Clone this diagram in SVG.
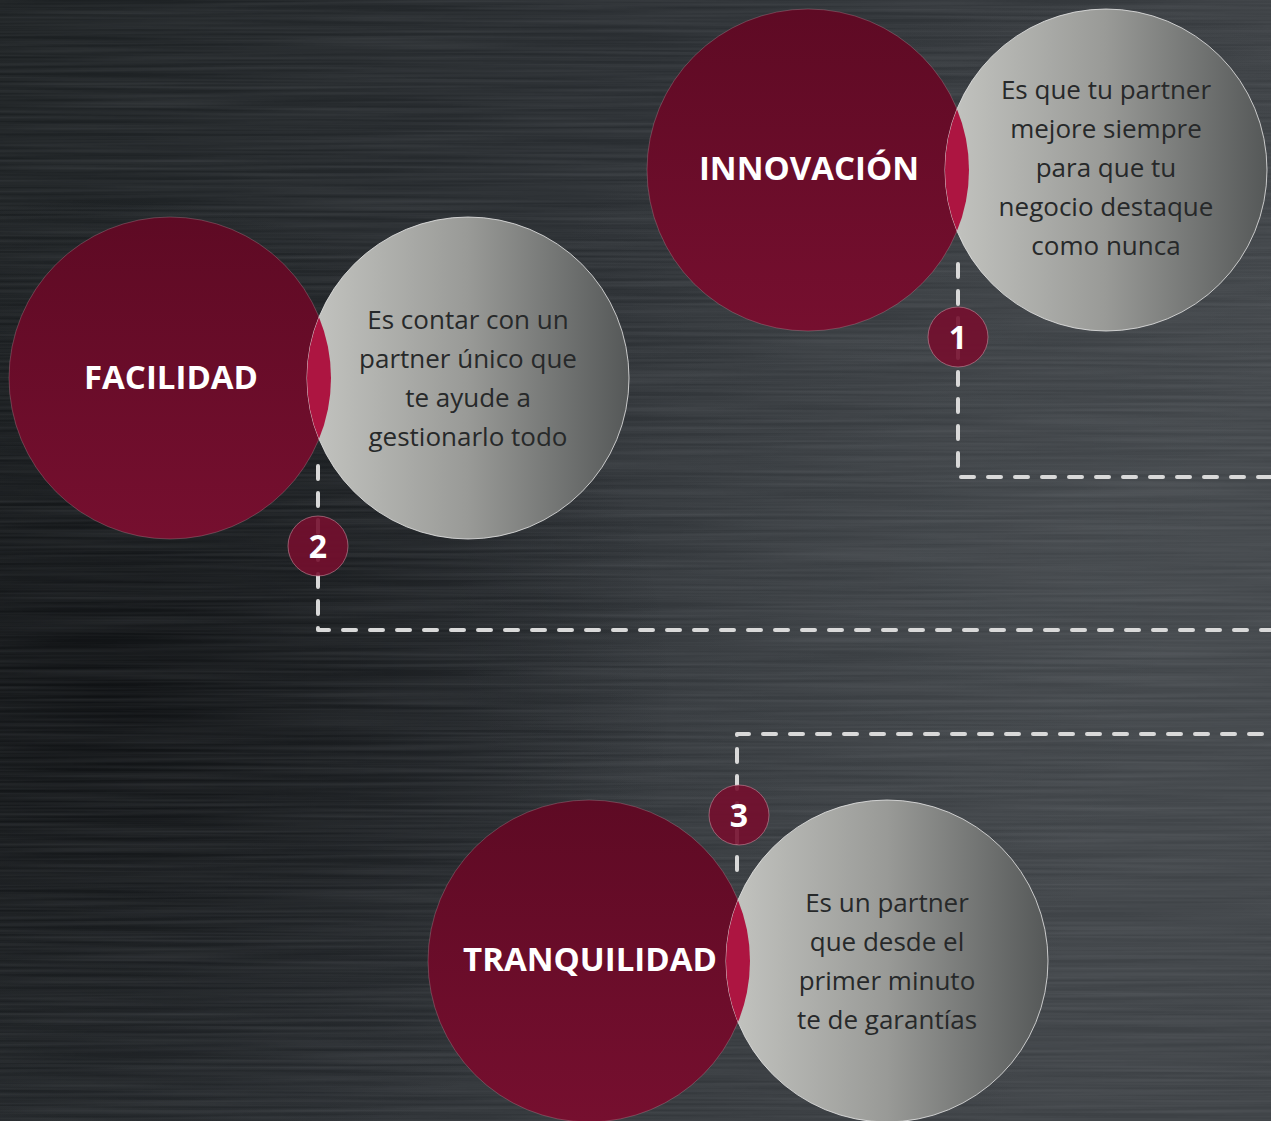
<svg xmlns="http://www.w3.org/2000/svg" width="1271" height="1121" viewBox="0 0 1271 1121">
<defs>
  <linearGradient id="bg" x1="0" y1="0" x2="1" y2="0.3">
    <stop offset="0" stop-color="#1b1f21"/>
    <stop offset="0.5" stop-color="#2a2e32"/>
    <stop offset="1" stop-color="#3d4145"/>
  </linearGradient>
  <radialGradient id="bgdark" cx="0.08" cy="0.62" r="0.45">
    <stop offset="0" stop-color="#0c0e10" stop-opacity="0.85"/>
    <stop offset="1" stop-color="#0c0e10" stop-opacity="0"/>
  </radialGradient>
  <radialGradient id="bglight" cx="0.85" cy="0.5" r="0.5">
    <stop offset="0" stop-color="#4e5357" stop-opacity="0.45"/>
    <stop offset="1" stop-color="#4e5357" stop-opacity="0"/>
  </radialGradient>
  <filter id="brush" x="0" y="0" width="1" height="1">
    <feTurbulence type="fractalNoise" baseFrequency="0.004 0.3" numOctaves="2" seed="4"/>
    <feColorMatrix type="matrix" values="0 0 0 0 0.45  0 0 0 0 0.47  0 0 0 0 0.5  0 0 0 0.22 -0.06"/>
  </filter>
  <linearGradient id="red" x1="0" y1="0" x2="0" y2="1">
    <stop offset="0" stop-color="#5e0a24"/>
    <stop offset="1" stop-color="#760f2f"/>
  </linearGradient>
  <linearGradient id="grey" x1="0" y1="0" x2="1" y2="0">
    <stop offset="0" stop-color="#c4c5c1"/>
    <stop offset="0.5" stop-color="#999a97"/>
    <stop offset="1" stop-color="#555858"/>
  </linearGradient>
  <clipPath id="c1"><circle cx="1106" cy="170" r="161"/></clipPath>
  <clipPath id="c2"><circle cx="468" cy="378" r="161"/></clipPath>
  <clipPath id="c3"><circle cx="887" cy="961" r="161"/></clipPath>
</defs>
<style>
  .red{fill:url(#red);stroke:#c9a0aa;stroke-width:0.6;stroke-opacity:0.5}
  .grey{fill:url(#grey);stroke:#e8e8e8;stroke-width:0.8}
  .lens{fill:#ad1541}
  .title{font-family:"Open Sans","Noto Sans",sans-serif;font-weight:700;font-size:33px;fill:#ffffff;text-anchor:middle}
  .body{font-family:"Open Sans","Noto Sans",sans-serif;font-size:26px;fill:#27292a;text-anchor:middle}
  .dash{fill:none;stroke:#d9d9d9;stroke-width:4;stroke-dasharray:13 14;stroke-linecap:round;stroke-linejoin:round}
  .badge{fill:#740e2e;fill-opacity:0.9;stroke:#c98a9c;stroke-width:0.6}
  .num{font-family:"Open Sans","Noto Sans",sans-serif;font-weight:700;font-size:32px;fill:#ffffff;text-anchor:middle}
</style>
<rect width="1271" height="1121" fill="url(#bg)"/>
<rect width="1271" height="1121" fill="url(#bglight)"/>
<rect width="1271" height="1121" fill="url(#bgdark)"/>
<rect width="1271" height="1121" filter="url(#brush)"/>

<g id="connectors">
  <path class="dash" d="M958 264 V477 H1271"/>
  <path class="dash" d="M318 466 V630 H1271"/>
  <path class="dash" d="M737 870 V734 H1271"/>
</g>

<g id="innovacion">
  <circle class="red" cx="808" cy="170" r="161"/>
  <circle class="grey" cx="1106" cy="170" r="161"/>
  <circle class="lens" cx="808" cy="170" r="161" clip-path="url(#c1)"/>
  <text class="title" x="809" y="180">INNOVACIÓN</text>
  <text class="body" x="1106" y="99">Es que tu partner</text>
  <text class="body" x="1106" y="138">mejore siempre</text>
  <text class="body" x="1106" y="177">para que tu</text>
  <text class="body" x="1106" y="216">negocio destaque</text>
  <text class="body" x="1106" y="255">como nunca</text>
</g>

<g id="facilidad">
  <circle class="red" cx="170" cy="378" r="161"/>
  <circle class="grey" cx="468" cy="378" r="161"/>
  <circle class="lens" cx="170" cy="378" r="161" clip-path="url(#c2)"/>
  <text class="title" x="171" y="389">FACILIDAD</text>
  <text class="body" x="468" y="329">Es contar con un</text>
  <text class="body" x="468" y="368">partner único que</text>
  <text class="body" x="468" y="407">te ayude a</text>
  <text class="body" x="468" y="446">gestionarlo todo</text>
</g>

<g id="tranquilidad">
  <circle class="red" cx="589" cy="961" r="161"/>
  <circle class="grey" cx="887" cy="961" r="161"/>
  <circle class="lens" cx="589" cy="961" r="161" clip-path="url(#c3)"/>
  <text class="title" x="590" y="971">TRANQUILIDAD</text>
  <text class="body" x="887" y="912">Es un partner</text>
  <text class="body" x="887" y="951">que desde el</text>
  <text class="body" x="887" y="990">primer minuto</text>
  <text class="body" x="887" y="1029">te de garantías</text>
</g>

<g id="badge1">
  <circle class="badge" cx="958" cy="337" r="30"/>
  <text class="num" x="958" y="349">1</text>
</g>
<g id="badge2">
  <circle class="badge" cx="318" cy="546" r="30"/>
  <text class="num" x="318" y="558">2</text>
</g>
<g id="badge3">
  <circle class="badge" cx="739" cy="815" r="30"/>
  <text class="num" x="739" y="827">3</text>
</g>
</svg>
